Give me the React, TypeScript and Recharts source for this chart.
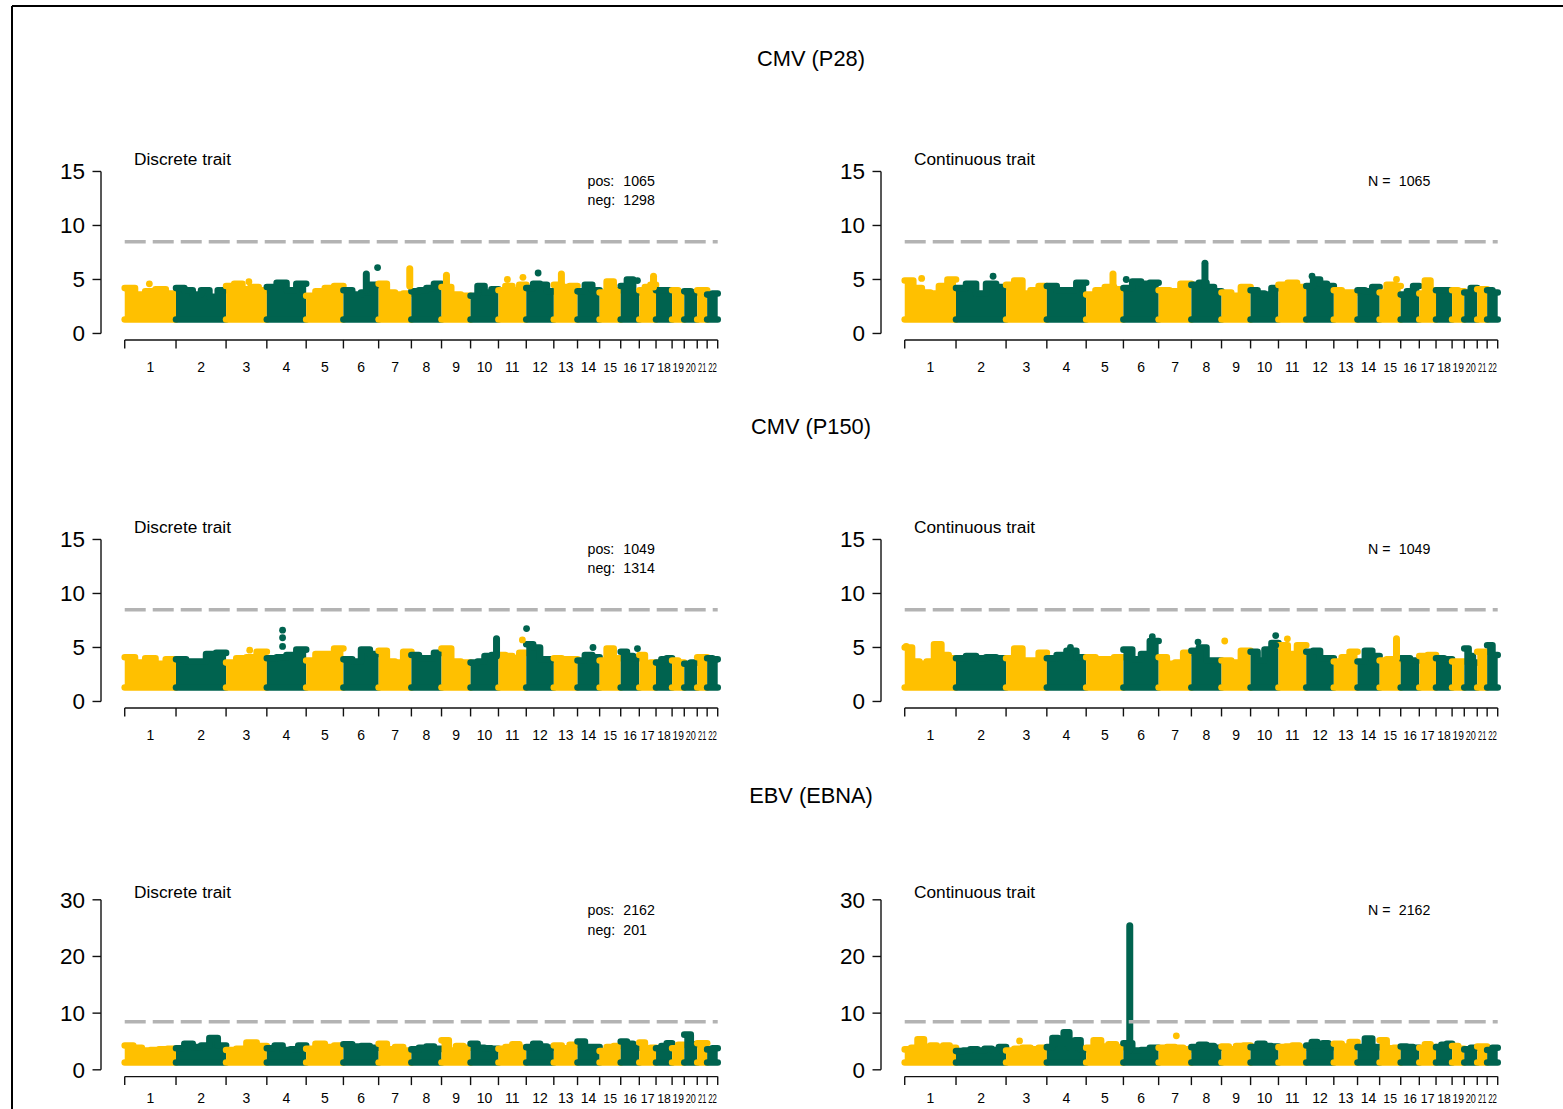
import React from 'react';
import { ComposedChart, Area, Line, Scatter, XAxis, YAxis, ReferenceLine } from 'recharts';

// chromosome sizes (Mb, hg19) used for the genome axis
const chromosomes = ['1', '2', '3', '4', '5', '6', '7', '8', '9', '10', '11', '12', '13', '14', '15', '16', '17', '18', '19', '20', '21', '22'];
const chromLengthMb = [249.25, 243.2, 198.02, 191.15, 180.92, 171.12, 159.14, 146.36, 141.21, 135.53, 135.01, 133.85, 115.17, 107.35, 102.53, 90.35, 81.2, 78.08, 59.13, 63.03, 48.13, 51.3];

const pFloor = 1.3; // only p < 0.05 plotted
const gwThreshold = 8.5;
const yTicksLow = [0, 5, 10, 15];
const yTicksHigh = [0, 10, 20, 30];

// top of the point cloud per chromosome (-log10 p), read left to right
const p28DiscreteTops = [
  [4.2, 3.6, 3.9, 4.1, 3.7], [4.2, 4.0, 3.6, 4.0, 3.4, 4.0], [4.4, 4.6, 4.1, 4.3, 4.0], [4.3, 4.7, 4.0, 4.6],
  [3.5, 3.9, 4.2, 4.4], [4.0, 3.6, 3.8, 4.5], [4.6, 3.8, 3.6, 3.7], [3.9, 4.0, 4.2, 4.6], [4.3, 3.6, 3.5],
  [3.5, 4.4, 3.8, 4.1], [4.0, 4.4, 4.0, 4.5], [4.2, 4.6, 4.5, 3.9], [4.5, 4.3, 4.4], [3.9, 4.5, 4.0],
  [3.8, 4.8, 4.0], [4.4, 5.0, 3.8], [4.0, 4.3, 4.5], [4.0, 4.0], [4.0, 3.8], [3.9, 3.8], [4.0], [3.6, 3.7],
];
// [chromosome, position within chromosome, -log10 p]
const p28DiscreteDots = [[1, 0.48, 4.6], [3, 0.56, 4.8], [6, 0.97, 6.1], [11, 0.32, 5.0], [11, 0.88, 5.2], [12, 0.43, 5.6], [16, 0.9, 4.9]];
// [chromosome, position, from, to] stacked hits
const p28DiscreteCols = [[6, 0.65, 4.0, 5.5], [7, 0.95, 4.4, 6.0], [9, 0.17, 4.0, 5.4], [13, 0.32, 4.3, 5.5], [17, 0.85, 4.3, 5.3]];

const p28ContinuousTops = [
  [4.9, 4.2, 3.8, 3.7, 4.4, 5.0], [4.2, 4.6, 3.7, 4.6, 4.3], [4.5, 4.9, 3.7, 4.0, 4.4], [4.4, 4.0, 4.0, 4.7],
  [3.6, 4.0, 4.3, 4.1], [4.2, 4.8, 4.6, 4.7], [4.0, 3.9, 4.6], [4.5, 4.7, 4.3, 3.9], [3.8, 3.5, 4.3],
  [4.0, 3.7, 3.6, 4.2], [4.5, 4.7, 4.3], [4.4, 5.0, 4.6, 4.4], [4.0, 3.8, 3.8], [4.0, 3.9, 4.3],
  [3.8, 4.5, 4.4], [3.6, 3.9, 4.4], [3.7, 4.9, 4.0], [4.0, 4.0], [4.0, 3.9], [3.8, 4.2], [4.1], [4.0, 3.8],
];
const p28ContinuousDots = [[1, 0.33, 5.1], [2, 0.74, 5.3], [6, 0.08, 5.0], [12, 0.21, 5.3], [15, 0.8, 5.0]];
const p28ContinuousCols = [[8, 0.45, 4.5, 6.5], [5, 0.72, 4.2, 5.5]];

const p150DiscreteTops = [
  [4.1, 3.6, 4.0, 3.5, 3.9], [3.9, 3.7, 3.7, 4.4, 4.5], [3.6, 4.0, 4.1, 4.6], [4.0, 4.1, 4.3, 4.8],
  [3.8, 4.4, 4.4, 4.9], [3.9, 3.7, 4.8, 4.4], [4.7, 3.7, 3.6, 4.6], [4.3, 4.0, 4.0, 4.5], [4.9, 3.7, 3.6],
  [3.6, 3.7, 4.2, 4.3], [4.3, 4.2, 4.0, 4.5], [5.3, 5.0, 3.9, 3.9], [4.0, 3.9, 3.9], [3.8, 4.3, 4.1],
  [3.8, 4.9, 4.0], [4.6, 4.2, 4.0], [4.3, 3.5, 3.6], [3.6, 3.9, 4.0], [3.8, 3.6], [3.5, 3.6], [4.1], [4.0, 3.9],
];
const p150DiscreteDots = [[3, 0.58, 4.75], [4, 0.4, 6.6], [4, 0.4, 5.9], [4, 0.4, 5.1], [11, 0.86, 5.7], [12, 0.01, 6.75], [14, 0.7, 5.0], [16, 0.9, 4.9]];
const p150DiscreteCols = [[10, 0.93, 4.2, 5.8]];

const p150ContinuousTops = [
  [5.0, 3.7, 3.5, 3.7, 5.3, 4.3, 4.0], [4.0, 4.2, 4.0, 4.1, 4.0], [4.0, 4.9, 3.8, 3.8, 4.5], [4.0, 4.3, 4.7, 4.1],
  [4.1, 3.9, 3.9, 4.1], [4.8, 3.9, 4.4, 5.6], [4.1, 3.5, 3.6, 4.5], [4.7, 5.0, 3.8, 3.8], [3.8, 3.6, 4.7],
  [4.6, 3.8, 4.8, 5.4], [5.2, 4.4, 5.2], [4.6, 4.7, 4.0, 4.0], [3.7, 4.1, 4.6], [3.7, 4.7, 4.2],
  [3.8, 3.9, 3.9], [4.0, 3.8], [4.2, 4.3], [4.0, 3.9], [3.7, 3.7], [4.9, 4.2, 3.6], [4.6], [5.2, 4.3],
];
const p150ContinuousDots = [[1, 0.03, 5.1], [4, 0.6, 5.0], [6, 0.82, 6.0], [8, 0.22, 5.5], [9, 0.11, 5.6], [10, 0.9, 6.1], [10, 0.9, 5.2], [11, 0.32, 5.8]];
const p150ContinuousCols = [[15, 0.8, 4.0, 5.8]];

const ebnaDiscreteTops = [
  [4.3, 3.9, 3.4, 3.5, 3.6, 3.7], [3.8, 4.6, 4.0, 4.3, 5.6, 4.3], [3.5, 3.7, 4.8, 4.2], [3.8, 4.3, 3.5, 3.6, 4.3],
  [3.7, 4.6, 4.0, 4.3], [4.5, 4.1, 4.2, 3.9], [4.6, 3.6, 4.0, 3.4], [3.6, 3.9, 4.1, 3.7], [5.2, 3.4, 4.2, 3.9],
  [4.6, 3.9, 3.8, 3.7], [3.7, 4.0, 4.5, 3.9], [4.0, 4.6, 4.1, 3.9], [4.3, 3.8, 4.4], [5.0, 4.0, 4.0],
  [3.3, 4.0, 4.2], [5.0, 4.6, 3.9], [4.8, 3.7, 3.9], [3.8, 4.2, 4.7], [3.8, 4.4], [6.2, 4.5], [4.7], [3.6, 3.8],
];
const ebnaDiscreteDots: number[][] = [];
const ebnaDiscreteCols: number[][] = [];

const ebnaContinuousTops = [
  [3.6, 3.9, 5.4, 4.0, 4.3, 3.7, 4.3, 3.9], [3.3, 3.4, 3.6, 3.4, 3.7, 3.5, 4.0], [3.4, 3.7, 3.9, 3.6, 3.9],
  [4.0, 5.6, 4.6, 6.6, 3.9, 5.2, 3.6], [3.9, 5.2, 4.1, 4.5, 4.0], [4.7, 3.4, 3.5, 3.9], [3.9, 4.0, 3.9, 3.6],
  [4.0, 4.4, 4.2, 3.9], [4.1, 3.6, 4.2, 4.3], [4.0, 4.6, 4.2, 4.1], [4.0, 4.1, 4.3, 3.9], [4.3, 4.9, 4.3, 4.7, 4.0],
  [4.6, 4.1, 4.9], [4.0, 5.5, 4.0], [5.2, 3.8, 3.9], [4.1, 4.0, 3.9], [3.9, 4.5, 4.0], [4.0, 4.4, 4.6],
  [4.2, 3.7], [3.6, 3.9], [4.1], [3.5, 3.9],
];
const ebnaContinuousDots = [[3, 0.33, 5.1], [7, 0.54, 6.0]];
const ebnaContinuousCols = [[6, 0.18, 3.5, 25.4]];

const YELLOW = '#FFC000';
const GREEN = '#00634F';
const AXIS = '#111';
const FONT = "'Liberation Sans', Arial, Helvetica, sans-serif";

// horizontal squeeze for the crowded small-chromosome labels
const narrowLabel: Record<string, number> = { '19': 0.83, '20': 0.74, '21': 0.6, '22': 0.63 };

const chromStart: number[] = [];
chromLengthMb.forEach((len, i) => chromStart.push(i === 0 ? 0 : chromStart[i - 1] + chromLengthMb[i - 1]));
const genomeLen = chromStart[21] + chromLengthMb[21];
const boundaries = [...chromStart, genomeLen];
const mids = chromStart.map((s, i) => s + chromLengthMb[i] / 2);
const midLabel = new Map(mids.map((m, i) => [m, chromosomes[i]]));
const xTicks = [...boundaries, ...mids].sort((a, b) => a - b);
const xPad = genomeLen * 0.04;

const Y_AXIS_W = 60;
const X_AXIS_H = 40;
const TOP_M = 14;
const PLOT_W = 640.44;

const colorOf = (chr: number) => (chr % 2 === 1 ? YELLOW : GREEN);
const posOf = (chr: number, frac: number) => chromStart[chr - 1] + frac * chromLengthMb[chr - 1];

interface PanelProps {
  plotLeft: number;
  plotTop: number;
  yMax: number;
  pxPerUnit: number;
  labelDy: number;
  tops: number[][];
  dots: number[][];
  cols: number[][];
}

function Manhattan({ plotLeft, plotTop, yMax, pxPerUnit, labelDy, tops, dots, cols }: PanelProps) {
  const yPad = yMax * 0.04;
  const plotH = (yMax + 2 * yPad) * pxPerUnit;
  const yTicks = yMax > 15 ? yTicksHigh : yTicksLow;
  const dotData = (odd: boolean) =>
    dots.filter((d) => (d[0] % 2 === 1) === odd).map((d) => ({ x: posOf(d[0], d[1]), y: d[2] }));

  return (
    <div style={{ position: 'absolute', left: plotLeft - Y_AXIS_W, top: plotTop - TOP_M }}>
      <ComposedChart width={Y_AXIS_W + PLOT_W} height={plotH + X_AXIS_H + TOP_M} margin={{ top: TOP_M, right: 0, bottom: 0, left: 0 }}>
        <XAxis
          type="number"
          dataKey="x"
          domain={[-xPad, genomeLen + xPad]}
          allowDataOverflow
          ticks={xTicks}
          interval={0}
          axisLine={false}
          tickLine={false}
          tickSize={0}
          tickMargin={0}
          height={X_AXIS_H}
          tick={(p: any) => {
            const name = midLabel.get(p.payload.value);
            if (name === undefined) {
              return <line x1={p.x} x2={p.x} y1={p.y} y2={p.y + 8.5} stroke={AXIS} strokeWidth={1.4} />;
            }
            const sx = narrowLabel[name] ?? 1;
            return (
              <text
                x={0}
                y={0}
                transform={`translate(${p.x} ${p.y + labelDy}) scale(${sx} 1)`}
                textAnchor="middle"
                fontFamily={FONT}
                fontSize={Number(name) >= 15 ? 12.3 : 14}
                fill="#000"
              >
                {name}
              </text>
            );
          }}
        />
        <YAxis
          type="number"
          dataKey="y"
          domain={[-yPad, yMax + yPad]}
          allowDataOverflow
          ticks={yTicks}
          interval={0}
          axisLine={false}
          tickLine={false}
          tickSize={0}
          tickMargin={0}
          width={Y_AXIS_W}
          tick={(p: any) => (
            <g>
              <line x1={p.x - 8.5} x2={p.x} y1={p.y} y2={p.y} stroke={AXIS} strokeWidth={1.4} />
              <text x={p.x - 16} y={p.y + 8} textAnchor="end" fontFamily={FONT} fontSize={22.5} fill="#000">
                {p.payload.value}
              </text>
            </g>
          )}
        />
        {tops.map((t, i) => {
          const start = chromStart[i];
          const len = chromLengthMb[i];
          const data = t.map((v, k) => ({ x: start + (len * k) / t.length, band: [pFloor, v] }));
          data.push({ x: start + len, band: [pFloor, t[t.length - 1]] });
          const c = colorOf(i + 1);
          return (
            <Area
              key={`chr${i}`}
              data={data}
              dataKey="band"
              type="stepAfter"
              fill={c}
              fillOpacity={1}
              stroke={c}
              strokeWidth={6.6}
              strokeLinejoin="round"
              strokeLinecap="round"
              dot={false}
              activeDot={false}
              isAnimationActive={false}
            />
          );
        })}
        {cols.map((c, i) => {
          const x = posOf(c[0], c[1]);
          return (
            <Line
              key={`col${i}`}
              data={[{ x, y: c[2] }, { x, y: c[3] }]}
              dataKey="y"
              stroke={colorOf(c[0])}
              strokeWidth={7}
              strokeLinecap="round"
              dot={false}
              activeDot={false}
              isAnimationActive={false}
            />
          );
        })}
        <Scatter
          data={dotData(true)}
          dataKey="y"
          fill={YELLOW}
          isAnimationActive={false}
          shape={(p: any) => <circle cx={p.cx} cy={p.cy} r={3.4} fill={YELLOW} />}
        />
        <Scatter
          data={dotData(false)}
          dataKey="y"
          fill={GREEN}
          isAnimationActive={false}
          shape={(p: any) => <circle cx={p.cx} cy={p.cy} r={3.4} fill={GREEN} />}
        />
        <ReferenceLine
          segment={[{ x: 0, y: gwThreshold }, { x: genomeLen, y: gwThreshold }]}
          stroke="#B3B3B3"
          strokeWidth={3.5}
          strokeDasharray="21 7"
          ifOverflow="visible"
        />
        <ReferenceLine
          segment={[{ x: -xPad, y: 0 }, { x: -xPad, y: yMax }]}
          stroke={AXIS}
          strokeWidth={1.4}
          ifOverflow="visible"
        />
        <ReferenceLine
          segment={[{ x: 0, y: -yPad }, { x: genomeLen, y: -yPad }]}
          stroke={AXIS}
          strokeWidth={1.4}
          ifOverflow="visible"
        />
      </ComposedChart>
    </div>
  );
}

const rows = [
  {
    title: 'CMV (P28)', titleY: 66, subY: 165, annY: 185.5, plotTop: 164.52, yMax: 15, pxPerUnit: 10.8, labelDy: 32,
    pos: '1065', neg: '1298', n: '1065',
    discrete: { tops: p28DiscreteTops, dots: p28DiscreteDots, cols: p28DiscreteCols },
    continuous: { tops: p28ContinuousTops, dots: p28ContinuousDots, cols: p28ContinuousCols },
  },
  {
    title: 'CMV (P150)', titleY: 434, subY: 533, annY: 553.5, plotTop: 532.52, yMax: 15, pxPerUnit: 10.8, labelDy: 32,
    pos: '1049', neg: '1314', n: '1049',
    discrete: { tops: p150DiscreteTops, dots: p150DiscreteDots, cols: p150DiscreteCols },
    continuous: { tops: p150ContinuousTops, dots: p150ContinuousDots, cols: p150ContinuousCols },
  },
  {
    title: 'EBV (EBNA)', titleY: 803, subY: 898.3, annY: 915, plotTop: 893.2, yMax: 30, pxPerUnit: 5.667, labelDy: 26,
    pos: '2162', neg: '201', n: '2162',
    discrete: { tops: ebnaDiscreteTops, dots: ebnaDiscreteDots, cols: ebnaDiscreteCols },
    continuous: { tops: ebnaContinuousTops, dots: ebnaContinuousDots, cols: ebnaContinuousCols },
  },
];

export default function App() {
  return (
    <div style={{ position: 'absolute', left: 0, top: 0, width: 1563, height: 1109, overflow: 'hidden', background: '#fff' }}>
      <svg width={1563} height={1109} style={{ position: 'absolute', left: 0, top: 0 }} fontFamily={FONT}>
        <line x1={12} x2={1563} y1={6} y2={6} stroke="#000" strokeWidth={2} />
        <line x1={12} x2={12} y1={6} y2={1109} stroke="#000" strokeWidth={2} />
        {rows.map((r) => (
          <g key={r.title}>
            <text x={811} y={r.titleY} textAnchor="middle" fontSize={21.8} fill="#000">{r.title}</text>
            <text x={134} y={r.subY} fontSize={17.3} fill="#000">Discrete trait</text>
            <text x={914} y={r.subY} fontSize={17.3} fill="#000">Continuous trait</text>
            <text x={587.5} y={r.annY} fontSize={14.2} fill="#000">pos:</text>
            <text x={623.3} y={r.annY} fontSize={14.2} fill="#000">{r.pos}</text>
            <text x={587.5} y={r.annY + 19.8} fontSize={14.2} fill="#000">neg:</text>
            <text x={623.3} y={r.annY + 19.8} fontSize={14.2} fill="#000">{r.neg}</text>
            <text x={1368} y={r.annY} fontSize={14.2} fill="#000">N =</text>
            <text x={1398.8} y={r.annY} fontSize={14.2} fill="#000">{r.n}</text>
          </g>
        ))}
      </svg>
      {rows.map((r) => (
        <React.Fragment key={r.title}>
          <Manhattan plotLeft={101.3} plotTop={r.plotTop} yMax={r.yMax} pxPerUnit={r.pxPerUnit} labelDy={r.labelDy} {...r.discrete} />
          <Manhattan plotLeft={881.3} plotTop={r.plotTop} yMax={r.yMax} pxPerUnit={r.pxPerUnit} labelDy={r.labelDy} {...r.continuous} />
        </React.Fragment>
      ))}
    </div>
  );
}
